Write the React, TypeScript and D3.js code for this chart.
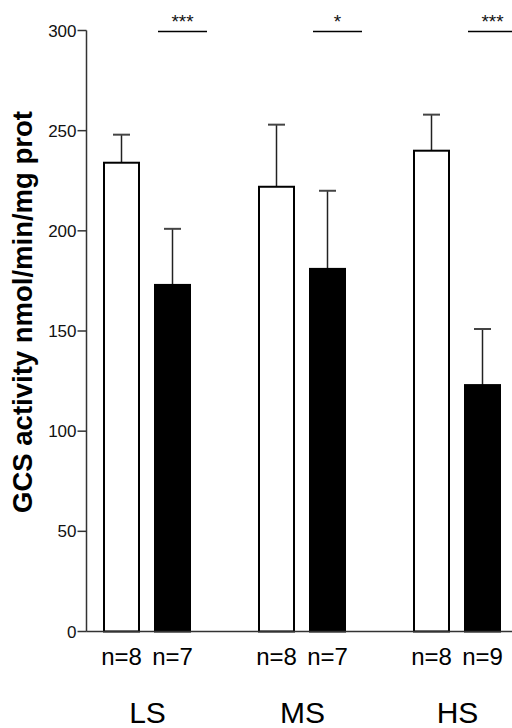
import React from "react";
import * as d3 from "d3";

const groups = ["LS", "MS", "HS"];
const series = ["control", "treated"];
const controlMeans = [234, 222, 240];
const controlErr = [248, 253, 258];
const treatedMeans = [173, 181, 123];
const treatedErr = [201, 220, 151];
const controlN = ["n=8", "n=8", "n=8"];
const treatedN = ["n=7", "n=7", "n=9"];
const stars = ["***", "*", "***"];
const yTicks = [0, 50, 100, 150, 200, 250, 300];

const W = 512;
const H = 728;
const FONT = "'Liberation Sans', Arial, sans-serif";

export default function App() {
  const y = d3.scaleLinear().domain([0, 300]).range([631.5, 30.5]);
  const x0 = d3.scaleBand<string>().domain(groups).range([104, 501]).paddingInner(68 / 155).paddingOuter(0);
  const x1 = d3.scaleBand<string>().domain(series).range([0, 86]).paddingInner(16 / 51).paddingOuter(0);
  const axisX = 86.5;
  const bw = x1.bandwidth();
  const capW = 17;

  const bars: any[] = [];
  groups.forEach((g, i) => {
    [
      { s: "control", v: controlMeans[i], e: controlErr[i], fill: "#fff" },
      { s: "treated", v: treatedMeans[i], e: treatedErr[i], fill: "#000" },
    ].forEach((b) => {
      const bx = (x0(g) as number) + (x1(b.s) as number);
      const cx = bx + bw / 2;
      bars.push(
        <g key={g + b.s}>
          <line x1={cx} x2={cx} y1={y(b.v)} y2={y(b.e)} stroke="#222" strokeWidth={1.5} />
          <line x1={cx - capW / 2} x2={cx + capW / 2} y1={y(b.e)} y2={y(b.e)} stroke="#444" strokeWidth={2} />
          <rect x={bx} y={y(b.v)} width={bw} height={y(0) - y(b.v)} fill={b.fill} stroke="#000" strokeWidth={2} />
        </g>
      );
    });
  });

  return (
    <svg width={W} height={H} style={{ position: "absolute", left: 0, top: 0 }} fontFamily={FONT}>
      <rect x={0} y={0} width={W} height={H} fill="#fff" />
      <line x1={axisX} x2={axisX} y1={y(300)} y2={y(0)} stroke="#333" strokeWidth={1.5} />
      {yTicks.map((t) => (
        <g key={t}>
          <line x1={axisX - 9} x2={axisX} y1={y(t)} y2={y(t)} stroke="#333" strokeWidth={1.5} />
          <text x={axisX - 10} y={y(t)} dy="0.36em" textAnchor="end" fontSize={17} fill="#111">
            {t}
          </text>
        </g>
      ))}
      {bars}
      <line x1={axisX} x2={W} y1={y(0)} y2={y(0)} stroke="#333" strokeWidth={1.5} />
      {groups.map((g, i) => {
        const sx = (x0(g) as number) + (x1("treated") as number) + 3;
        return (
          <g key={"sig" + g}>
            <line x1={sx} x2={sx + 49} y1={y(300) + 1} y2={y(300) + 1} stroke="#000" strokeWidth={1.5} />
            <text x={sx + 24.5} y={28} textAnchor="middle" fontSize={19} fill="#111">
              {stars[i]}
            </text>
          </g>
        );
      })}
      {groups.map((g, i) => (
        <g key={"n" + g}>
          <text x={(x0(g) as number) + (x1("control") as number) + bw / 2} y={665} textAnchor="middle" fontSize={24} fill="#000">
            {controlN[i]}
          </text>
          <text x={(x0(g) as number) + (x1("treated") as number) + bw / 2} y={665} textAnchor="middle" fontSize={24} fill="#000">
            {treatedN[i]}
          </text>
          <text x={(x0(g) as number) + x0.bandwidth() / 2} y={723} textAnchor="middle" fontSize={30} fill="#000">
            {g}
          </text>
        </g>
      ))}
      <text transform={`translate(32,312) rotate(-90)`} textAnchor="middle" fontSize={27.5} fontWeight="bold" fill="#000">
        GCS activity nmol/min/mg prot
      </text>
    </svg>
  );
}
